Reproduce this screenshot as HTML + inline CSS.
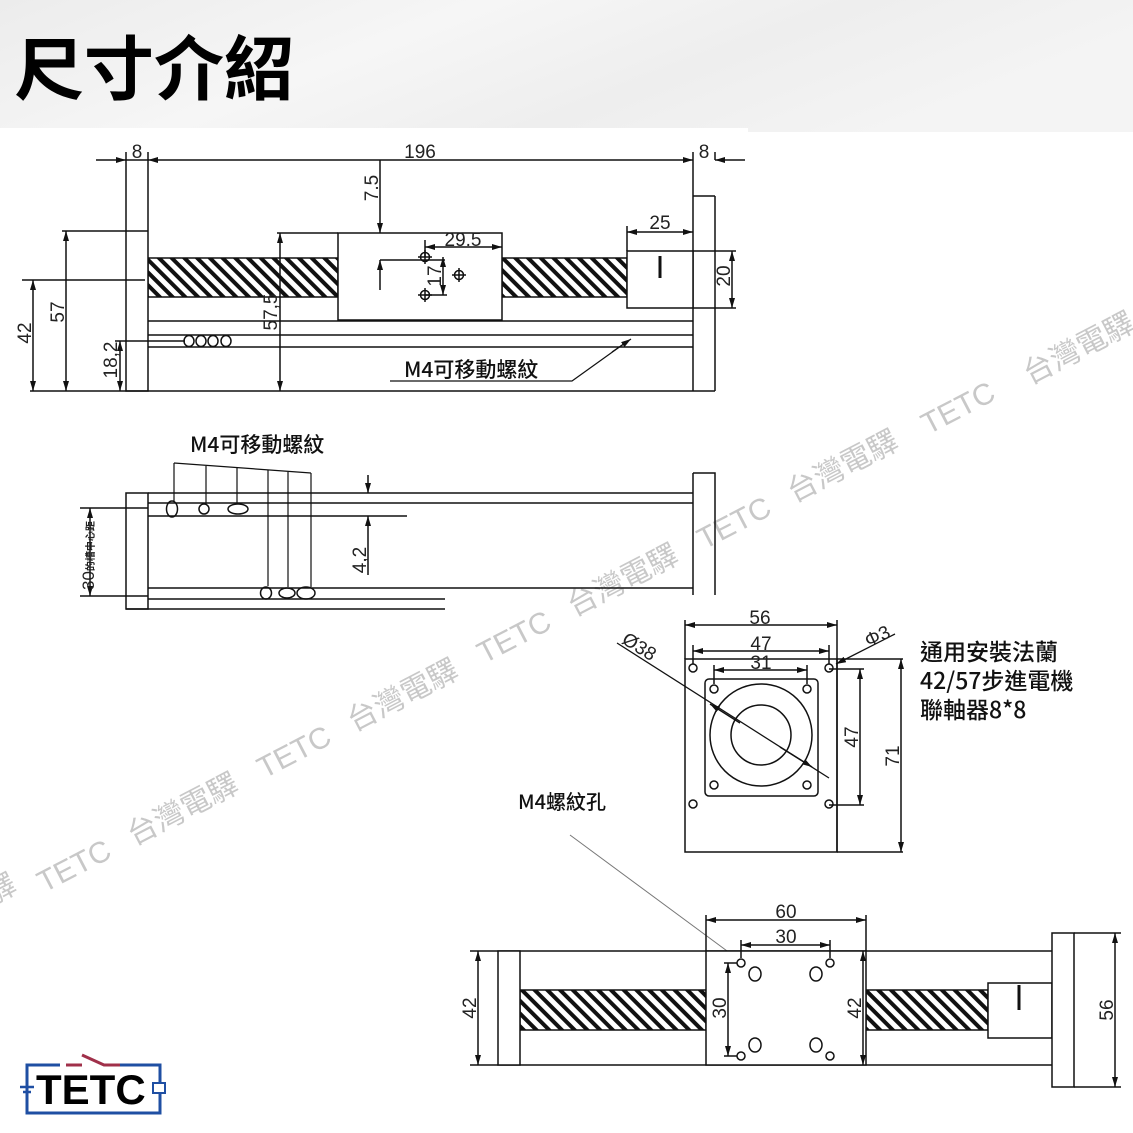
<!DOCTYPE html>
<html><head><meta charset="utf-8"><style>
html,body{margin:0;padding:0;background:#fff}
svg{display:block}
text{font-family:"Liberation Sans","Noto Sans CJK TC",sans-serif}
.lb{font-family:"Noto Sans CJK TC","Liberation Sans",sans-serif}
</style></head><body>
<svg width="1133" height="1133" viewBox="0 0 1133 1133" xmlns="http://www.w3.org/2000/svg">
<defs>
<linearGradient id="hg" x1="0" y1="0" x2="1" y2="0.3">
<stop offset="0" stop-color="#ececec"/><stop offset="0.4" stop-color="#f6f6f6"/><stop offset="0.7" stop-color="#eeeeee"/><stop offset="1" stop-color="#f4f4f4"/></linearGradient>
<pattern id="hatch" patternUnits="userSpaceOnUse" width="9" height="9" patternTransform="rotate(-45)">
<rect width="9" height="9" fill="#fff"/><rect width="4" height="9" fill="#111"/></pattern>
<marker id="a" viewBox="0 0 10 6" refX="10" refY="3" markerWidth="10" markerHeight="6" markerUnits="userSpaceOnUse" orient="auto-start-reverse"><path d="M0,0 L10,3 L0,6z" fill="#111"/></marker>
</defs>
<rect width="1133" height="132" fill="url(#hg)"/>
<rect x="0" y="128" width="748" height="6" fill="#fff"/>
<text x="14" y="94" font-size="70" font-weight="bold" fill="#000">尺寸介紹</text>

<!-- watermark -->
<g fill="#c8c8c8" font-size="30">
<text transform="translate(-8,905) rotate(-27.5)">驛</text>
<text transform="translate(44,893) rotate(-27.5)">TETC</text>
<text transform="translate(134,846) rotate(-27.5)">台灣電驛</text>
<text transform="translate(264,779) rotate(-27.5)">TETC</text>
<text transform="translate(354,732) rotate(-27.5)">台灣電驛</text>
<text transform="translate(484,664) rotate(-27.5)">TETC</text>
<text transform="translate(574,617) rotate(-27.5)">台灣電驛</text>
<text transform="translate(704,550) rotate(-27.5)">TETC</text>
<text transform="translate(794,503) rotate(-27.5)">台灣電驛</text>
<text transform="translate(928,435) rotate(-27.5)">TETC</text>
<text transform="translate(1030,385) rotate(-27.5)">台灣電驛</text>
</g>

<g stroke="#111" stroke-width="1.5" fill="none">
<!-- TOP VIEW -->
<rect x="148" y="258" width="190" height="39" fill="url(#hatch)"/>
<rect x="502" y="258" width="125" height="39" fill="url(#hatch)"/>
<rect x="126" y="160" width="22" height="231" fill="#fff"/>
<path d="M693,160 V391 M715,196 V391 M693,196 H715"/>
<rect x="338" y="233" width="164" height="87" fill="#fff"/>
<rect x="627" y="251" width="66" height="57" fill="#fff"/>
<path d="M660,256 V278" stroke-width="3"/>
<path d="M148,321 H693 M148,335 H693 M148,347 H693 M30,391 H715"/>
<path d="M126,152 V160 M148,152 V160 M693,152 V160 M715,152 V160"/>
<path d="M96,160 H126" marker-end="url(#a)"/>
<path d="M148,160 H693" marker-start="url(#a)" marker-end="url(#a)"/>
<path d="M745,160 H715" marker-end="url(#a)"/>
<path d="M627,232 H693" marker-start="url(#a)" marker-end="url(#a)"/>
<path d="M627,226 V251"/>
<path d="M693,251 H736"/>
<path d="M732,251 V308" marker-start="url(#a)" marker-end="url(#a)"/>
<path d="M693,308 H736"/>
<path d="M380,160 V233" marker-end="url(#a)"/>
<path d="M380,290 V260" marker-end="url(#a)"/>
<path d="M380,260 H445"/>
<path d="M425,247 H502" marker-start="url(#a)" marker-end="url(#a)"/>
<path d="M425,240 V257"/>
<circle cx="425" cy="257" r="4.5"/><path d="M418,257 H432 M425,250 V264"/>
<circle cx="459" cy="275" r="4.5"/><path d="M452,275 H466 M459,268 V282"/>
<circle cx="425" cy="295" r="4.5"/><path d="M418,295 H432 M425,288 V302"/>
<path d="M425,295 H447"/>
<path d="M443,257 V295" marker-start="url(#a)" marker-end="url(#a)"/>
<path d="M277,233 H338"/>
<path d="M280,233 V391" marker-start="url(#a)" marker-end="url(#a)"/>
<path d="M62,231 H148"/>
<path d="M66,231 V391" marker-start="url(#a)" marker-end="url(#a)"/>
<path d="M22,280 H145"/>
<path d="M33,280 V391" marker-start="url(#a)" marker-end="url(#a)"/>
<path d="M115,341 H185"/>
<path d="M120,341 V391" marker-start="url(#a)" marker-end="url(#a)"/>
<ellipse cx="189" cy="341" rx="5" ry="5.5"/><ellipse cx="201" cy="341" rx="5" ry="5.5"/><ellipse cx="213" cy="341" rx="5" ry="5.5"/><ellipse cx="226" cy="341" rx="5" ry="5.5"/>
<path d="M390,381 H572 L625,343" stroke-width="1.2"/>
<path d="M612,352 L631,339" marker-end="url(#a)" stroke-width="1.2"/>

<!-- SIDE VIEW -->
<rect x="126" y="493" width="22" height="116" fill="#fff"/>
<path d="M693,473 H715 V595 M693,473 V595"/>
<path d="M148,493 H693 M148,503 H693 M148,516 H407 M148,588 H693 M148,599 H445 M126,609 H445"/>
<path d="M80,508 H148 M80,596 H148"/>
<path d="M90,508 V596" marker-start="url(#a)" marker-end="url(#a)"/>
<path d="M368,475 V493" marker-end="url(#a)"/>
<path d="M368,575 V516" marker-end="url(#a)"/>
<path d="M174,463 L311,473" stroke-width="1.2"/>
<path d="M174,463 V501 M206,466 V504 M237,468 V504 M268,470 V586 M288,472 V587 M311,473 V587" stroke-width="1.2"/>
<ellipse cx="172" cy="509" rx="5.5" ry="8"/><ellipse cx="204" cy="509" rx="5" ry="5"/><ellipse cx="238" cy="509" rx="10" ry="5"/>
<ellipse cx="266" cy="593" rx="5.5" ry="6"/><ellipse cx="287" cy="593" rx="8" ry="5"/><ellipse cx="306" cy="593" rx="9" ry="6"/>

<!-- FLANGE -->
<rect x="685" y="659" width="152" height="193" fill="#fff"/>
<path d="M685,620 V659 M837,620 V852"/>
<path d="M685,625 H837" marker-start="url(#a)" marker-end="url(#a)"/>
<path d="M693,645 V664 M829,645 V664"/>
<path d="M693,651 H829" marker-start="url(#a)" marker-end="url(#a)"/>
<path d="M714,665 V684 M807,665 V684"/>
<path d="M714,670 H807" marker-start="url(#a)" marker-end="url(#a)"/>
<rect x="705" y="679" width="113" height="117" rx="4"/>
<circle cx="761" cy="735" r="51"/><circle cx="761" cy="735" r="30"/>
<circle cx="693" cy="668" r="4"/><circle cx="829" cy="668" r="4"/><circle cx="693" cy="804" r="4"/><circle cx="829" cy="804" r="4"/>
<circle cx="714" cy="689" r="4"/><circle cx="807" cy="689" r="4"/><circle cx="714" cy="785" r="4"/><circle cx="807" cy="785" r="4"/>
<path d="M617,643 L829,778" stroke-width="1.3"/>
<path d="M740,723 L710,704" marker-end="url(#a)"/>
<path d="M780,747 L812,767" marker-end="url(#a)"/>
<path d="M895,634 L836,664" marker-end="url(#a)" stroke-width="1.3"/>
<path d="M837,659 H903 M829,669 H864 M829,805 H864 M837,852 H903"/>
<path d="M860,669 V805" marker-start="url(#a)" marker-end="url(#a)"/>
<path d="M901,659 V852" marker-start="url(#a)" marker-end="url(#a)"/>
<path d="M570,835 L742,962" stroke="#777" stroke-width="1"/>

<!-- BOTTOM VIEW -->
<rect x="520" y="990" width="186" height="40" fill="url(#hatch)"/>
<rect x="866" y="990" width="122" height="40" fill="url(#hatch)"/>
<path d="M470,951 H1052 M470,1065 H1052"/>
<path d="M478,951 V1065" marker-start="url(#a)" marker-end="url(#a)"/>
<rect x="498" y="951" width="22" height="114" fill="#fff"/>
<rect x="706" y="951" width="160" height="114" fill="#fff"/>
<path d="M706,915 V951 M866,915 V951"/>
<path d="M706,920 H866" marker-start="url(#a)" marker-end="url(#a)"/>
<path d="M741,940 V958 M830,940 V958"/>
<path d="M741,945 H830" marker-start="url(#a)" marker-end="url(#a)"/>
<path d="M724,963 H737 M724,1056 H737"/>
<path d="M728,963 V1056" marker-start="url(#a)" marker-end="url(#a)"/>
<path d="M863,951 V1065" marker-start="url(#a)" marker-end="url(#a)"/>
<circle cx="741" cy="963" r="4"/><circle cx="830" cy="963" r="4"/><circle cx="741" cy="1056" r="4"/><circle cx="830" cy="1056" r="4"/>
<ellipse cx="755" cy="974" rx="6" ry="7"/><ellipse cx="816" cy="974" rx="6" ry="7"/><ellipse cx="755" cy="1045" rx="6" ry="7"/><ellipse cx="816" cy="1045" rx="6" ry="7"/>
<rect x="988" y="983" width="64" height="55" fill="#fff"/>
<path d="M1019,985 V1010" stroke-width="3"/>
<rect x="1052" y="933" width="22" height="154" fill="#fff"/>
<path d="M1074,933 H1121 M1074,1087 H1121"/>
<path d="M1115,933 V1087" marker-start="url(#a)" marker-end="url(#a)"/>
</g>

<!-- dimension text -->
<g fill="#222" font-size="19" text-anchor="middle">
<text x="137" y="158">8</text>
<text x="420" y="158">196</text>
<text x="704" y="158">8</text>
<text x="660" y="229">25</text>
<text x="463" y="246">29.5</text>
<text transform="translate(378,188) rotate(-90)">7.5</text>
<text transform="translate(441,276) rotate(-90)">17</text>
<text transform="translate(730,276) rotate(-90)">20</text>
<text transform="translate(277,312) rotate(-90)">57,5</text>
<text transform="translate(64,312) rotate(-90)">57</text>
<text transform="translate(31,333) rotate(-90)">42</text>
<text transform="translate(117,360) rotate(-90)">18,2</text>
<text transform="translate(366,560) rotate(-90)">4,2</text>
<text x="760" y="624">56</text>
<text x="761" y="650">47</text>
<text x="761" y="669">31</text>
<text transform="translate(636,652) rotate(32)">Ø38</text>
<text transform="translate(880,642) rotate(-25)">Φ3</text>
<text transform="translate(858,737) rotate(-90)">47</text>
<text transform="translate(899,756) rotate(-90)">71</text>
<text x="786" y="918">60</text>
<text x="786" y="943">30</text>
<text transform="translate(476,1008) rotate(-90)">42</text>
<text transform="translate(726,1008) rotate(-90)">30</text>
<text transform="translate(861,1008) rotate(-90)">42</text>
<text transform="translate(1113,1010) rotate(-90)">56</text>
</g>
<text transform="translate(94,590) rotate(-90)" font-size="17" fill="#222">30<tspan font-size="10" font-weight="bold">的槽中心距</tspan></text>
<g fill="#111" font-weight="500">
<text class="lb" x="404" y="377" font-size="21">M4可移動螺紋</text>
<text class="lb" x="190" y="452" font-size="21">M4可移動螺紋</text>
<text class="lb" x="518" y="809" font-size="20">M4螺紋孔</text>
<text class="lb" x="920" y="660" font-size="23">通用安裝法蘭</text>
<text class="lb" x="920" y="689" font-size="23">42/57步進電機</text>
<text class="lb" x="920" y="718" font-size="23">聯軸器8*8</text>
</g>

<!-- logo -->
<g>
<rect x="27" y="1065" width="133" height="48" fill="none" stroke="#1f4fa3" stroke-width="3"/>
<rect x="60" y="1062" width="60" height="6" fill="#fff"/>
<path d="M66,1065 H82 M82,1055 L104,1065 H120" stroke="#a0304a" stroke-width="3" fill="none"/>
<path d="M20,1087 H34 M23,1092 H31" stroke="#1f4fa3" stroke-width="2.5"/>
<rect x="153" y="1083" width="12" height="10" fill="#fff" stroke="#1f4fa3" stroke-width="2"/>
<text x="36" y="1104" font-size="42" font-weight="bold" fill="#000">TETC</text>
</g>
</svg>
</body></html>
